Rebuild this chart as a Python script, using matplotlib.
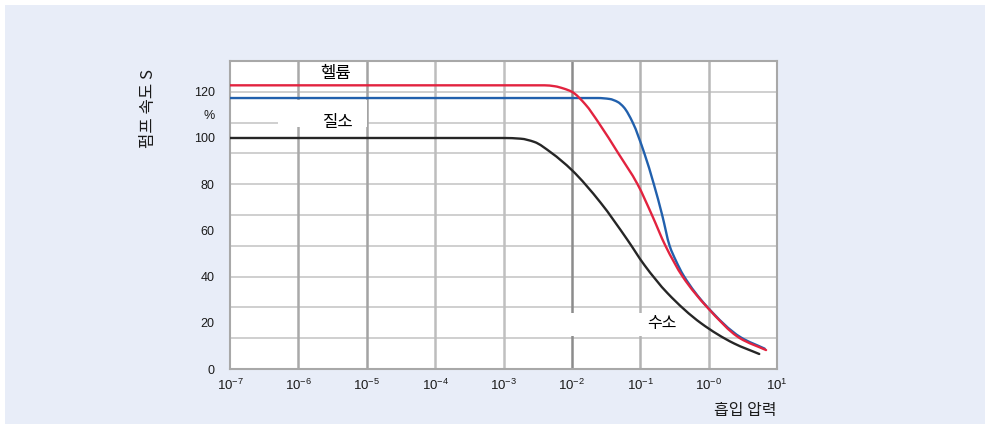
import matplotlib
matplotlib.use("Agg")
import numpy as np
import matplotlib.pyplot as plt
from matplotlib.patches import Rectangle, PathPatch
from matplotlib.path import Path

plt.rcParams["font.family"] = ["Liberation Sans", "Noto Sans CJK KR", "DejaVu Sans"]
KR = ["Noto Sans CJK KR", "DejaVu Sans"]

# Pumping speed S (%) versus inlet pressure for three gases
helium_p = [1e-7, 3.98e-3, 5.62e-3, 7.59e-3, 1.0e-2, 1.58e-2, 2.45e-2, 4.79e-2,
            9.12e-2, 0.148, 0.234, 0.417, 0.955, 2.88, 6.92]
helium_s = [122.8, 122.8, 122.4, 121.4, 120.0, 114.5, 106.7, 93.3,
            80.0, 66.7, 53.3, 40.0, 26.7, 13.3, 8.2]

nitrogen_p = [1e-7, 2.40e-2, 3.55e-2, 4.68e-2, 5.75e-2, 7.76e-2, 0.115, 0.158,
              0.209, 0.269, 0.331, 0.427, 0.933, 2.95, 6.61]
nitrogen_s = [117.3, 117.3, 116.9, 115.6, 113.3, 106.7, 93.3, 80.0,
              66.7, 53.3, 47.0, 40.6, 27.2, 13.7, 8.8]

hydrogen_p = [1e-7, 1.0e-3, 1.78e-3, 2.82e-3, 5.01e-3, 1.0e-2, 2.63e-2, 6.46e-2,
              0.115, 0.251, 0.776, 2.34, 5.50]
hydrogen_s = [100.0, 100.0, 99.7, 98.3, 93.6, 86.1, 72.0, 56.0,
              45.0, 32.8, 19.8, 11.1, 6.5]

x_ticks = [1e-7, 1e-6, 1e-5, 1e-4, 1e-3, 1e-2, 1e-1, 1e0, 1e1]
x_tick_labels = [r"$\mathregular{10^{-7}}$", r"$\mathregular{10^{-6}}$",
                 r"$\mathregular{10^{-5}}$", r"$\mathregular{10^{-4}}$",
                 r"$\mathregular{10^{-3}}$", r"$\mathregular{10^{-2}}$",
                 r"$\mathregular{10^{-1}}$", r"$\mathregular{10^{-0}}$",
                 r"$\mathregular{10^{1}}$"]
y_ticks = [0, 20, 40, 60, 80, 100, 110, 120]
y_tick_labels = ["0", "20", "40", "60", "80", "100", "%", "120"]


def smooth_curve(px, py):
    """Monotone cubic Bezier path through the points, built in log10(p) space."""
    lx = np.log10(np.asarray(px, dtype=float))
    y = np.asarray(py, dtype=float)
    h = np.diff(lx)
    d = np.diff(y) / h
    m = np.zeros_like(y)
    m[0], m[-1] = d[0], d[-1]
    for i in range(1, len(y) - 1):
        if d[i - 1] * d[i] <= 0:
            m[i] = 0.0
        else:
            w1 = 2 * h[i] + h[i - 1]
            w2 = h[i] + 2 * h[i - 1]
            m[i] = (w1 + w2) / (w1 / d[i - 1] + w2 / d[i])
    verts = [(lx[0], y[0])]
    codes = [Path.MOVETO]
    for i in range(len(y) - 1):
        verts += [(lx[i] + h[i] / 3, y[i] + m[i] * h[i] / 3),
                  (lx[i + 1] - h[i] / 3, y[i + 1] - m[i + 1] * h[i] / 3),
                  (lx[i + 1], y[i + 1])]
        codes += [Path.CURVE4] * 3
    verts = np.array(verts)
    verts[:, 0] = 10.0 ** verts[:, 0]
    return Path(verts, codes)


fig = plt.figure(figsize=(9.85, 4.24), dpi=100, facecolor="white")
fig.patches.append(Rectangle((5 / 985, 0), 1, 1 - 5 / 424, transform=fig.transFigure,
                             facecolor="#e8edf8", edgecolor="none", zorder=-10))

ax = fig.add_axes([230 / 985, 1 - 369 / 424, 547 / 985, 308 / 424])
ax.set_facecolor("white")
ax.set_xscale("log")
ax.set_xlim(1e-7, 1e1)
y_top = 133.33
ax.set_ylim(0, y_top)

# Background grid: ten horizontal bands and one line per decade
for k in range(1, 10):
    ax.axhline(k * y_top / 10, color="#cbcbcb", lw=1.3, zorder=1)
decade_colors = {1e-6: "#a9a9a9", 1e-5: "#a3a3a3", 1e-4: "#bdbdbd", 1e-3: "#c0c0c0",
                 1e-2: "#8c8c8c", 1e-1: "#b3b3b3", 1e0: "#b8b8b8"}
for xv, c in decade_colors.items():
    ax.axvline(xv, color=c, lw=1.8, zorder=1)

# White label panels over the grid
ax.add_patch(Rectangle((0.088, 0.786), 0.162, 0.087, transform=ax.transAxes,
                       facecolor="white", edgecolor="none", zorder=1.5))
ax.add_patch(Rectangle((0.603, 0.107), 0.22, 0.075, transform=ax.transAxes,
                       facecolor="white", edgecolor="none", zorder=1.5))

for px, py, col, z in [(hydrogen_p, hydrogen_s, "#262626", 3),
                       (nitrogen_p, nitrogen_s, "#2160ad", 3),
                       (helium_p, helium_s, "#e2233f", 4)]:
    ax.add_patch(PathPatch(smooth_curve(px, py), facecolor="none", edgecolor=col,
                           lw=1.7, zorder=z, capstyle="round", joinstyle="round"))

ax.text(0.194, 0.958, "헬륨", transform=ax.transAxes, ha="center", va="center",
        fontsize=12, family=KR, zorder=5)
ax.text(0.198, 0.799, "질소", transform=ax.transAxes, ha="center", va="center",
        fontsize=12, family=KR, zorder=5)
ax.text(0.789, 0.148, "수소", transform=ax.transAxes, ha="center", va="center",
        fontsize=11.5, family=KR, zorder=5)

ax.set_xticks(x_ticks)
ax.set_xticklabels(x_tick_labels)
ax.minorticks_off()
ax.set_yticks(y_ticks)
ax.set_yticklabels(y_tick_labels)
ax.tick_params(axis="both", which="both", length=0, colors="#1a1a1a")
ax.tick_params(axis="x", pad=6, labelsize=9.5)
ax.tick_params(axis="y", pad=11, labelsize=9)

for sp in ax.spines.values():
    sp.set_color("#a8a8a8")
    sp.set_linewidth(1.5)

fig.text(148 / 985, 1 - 109 / 424, "펌프 속도 S", rotation=90, ha="center", va="center",
         fontsize=12, family=KR, color="#1a1a1a")
fig.text(777 / 985, 1 - 410 / 424, "흡입 압력", ha="right", va="center",
         fontsize=11.5, family=KR, color="#1a1a1a")

fig.savefig("out.png", dpi=100, facecolor=fig.get_facecolor())
